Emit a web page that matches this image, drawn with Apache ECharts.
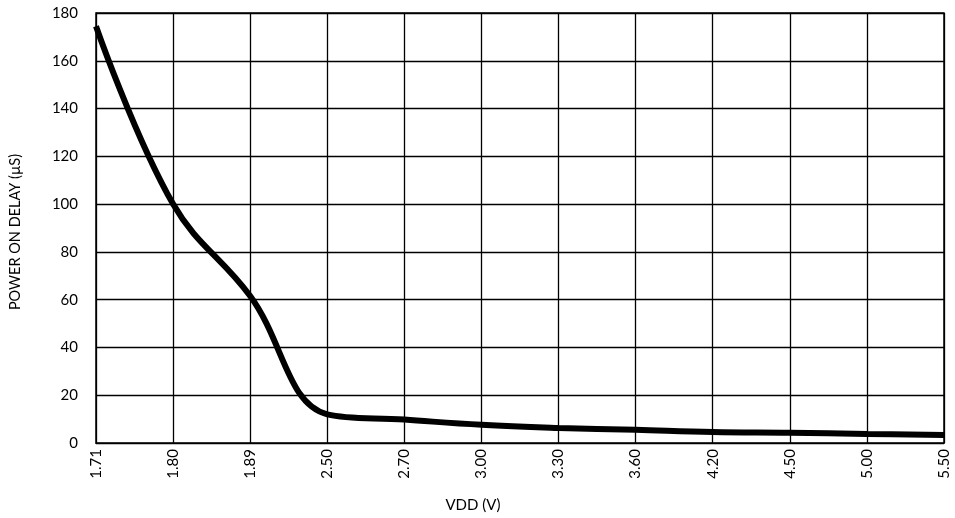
<!DOCTYPE html>
<html><head><meta charset="utf-8">
<script src="https://cdn.jsdelivr.net/npm/echarts@6/dist/echarts.min.js"></script>
<style>html,body{margin:0;padding:0;background:#fff}#c{width:955px;height:518px}</style>
</head><body><div id="c"></div>
<script>
const categories = ['1.71','1.80','1.89','2.50','2.70','3.00','3.30','3.60','4.20','4.50','5.00','5.50'];
const delayValues = [174.5, 100, 61.5, 12, 9.8, 7.6, 6.3, 5.5, 4.6, 4.3, 3.8, 3.4];
const yTicks = { min: 0, max: 180, interval: 20 };
const xName = 'VDD (V)';
const yName = 'POWER ON DELAY (µS)';

const font = 'Lato, "Liberation Sans", sans-serif';
const chart = echarts.init(document.getElementById('c'));
chart.setOption({
  animation: false,
  grid: { left: 94, right: 11, top: 13, bottom: 72, containLabel: false,
          show: true, borderColor: '#000', borderWidth: 1.5 },
  xAxis: {
    type: 'category', data: categories, boundaryGap: false,
    name: xName, nameLocation: 'middle', nameGap: 55,
    nameTextStyle: { color: '#000', fontSize: 15, fontFamily: font, padding: [0, 94, 0, 0] },
    axisLine: { lineStyle: { color: '#000', width: 1 } },
    axisTick: { show: false },
    axisLabel: { rotate: 90, color: '#000', fontSize: 15, fontFamily: font, margin: 6 },
    splitLine: { show: true, lineStyle: { color: '#000', width: 1.3 } }
  },
  yAxis: {
    type: 'value', min: yTicks.min, max: yTicks.max, interval: yTicks.interval,
    name: yName, nameLocation: 'middle', nameGap: 73, nameRotate: 90,
    nameTextStyle: { color: '#000', fontSize: 14.5, fontFamily: font, padding: [0, 8, 0, 0] },
    axisLine: { show: true, lineStyle: { color: '#000', width: 1 } },
    axisTick: { show: false },
    axisLabel: { color: '#000', fontSize: 15, fontFamily: font, margin: 18 },
    splitLine: { show: true, lineStyle: { color: '#000', width: 1.3 } }
  },
  series: [{
    type: 'line', data: delayValues, smooth: 0.4, symbol: 'none',
    lineStyle: { color: '#000', width: 6 }
  }]
});
</script></body></html>
